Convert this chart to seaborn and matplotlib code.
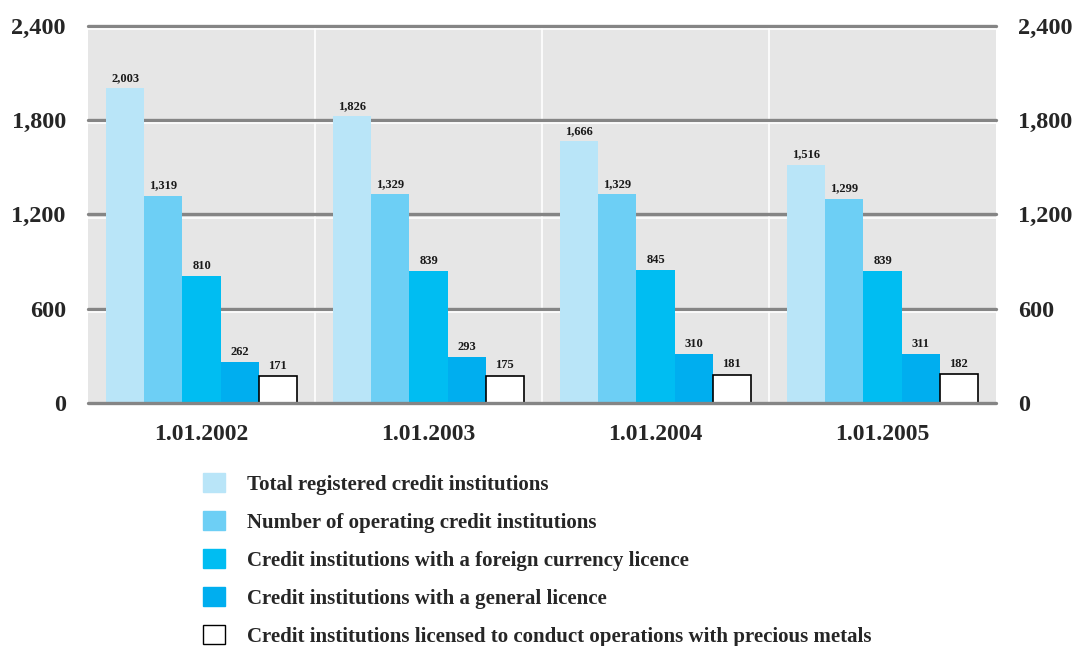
import numpy as np
import pandas as pd
import matplotlib
matplotlib.use("Agg")
import matplotlib.pyplot as plt
import matplotlib.transforms as mtransforms
import seaborn as sns

# Data
dates = ['1.01.2002', '1.01.2003', '1.01.2004', '1.01.2005']
series = [
    'Total registered credit institutions',
    'Number of operating credit institutions',
    'Credit institutions with a foreign currency licence',
    'Credit institutions with a general licence',
    'Credit institutions licensed to conduct operations with precious metals',
]
total_registered = [2003, 1826, 1666, 1516]
operating = [1319, 1329, 1329, 1299]
foreign_currency = [810, 839, 845, 839]
general_licence = [262, 293, 310, 311]
precious_metals = [171, 175, 181, 182]
colors = ['#b9e5f8', '#6dcff5', '#00bdf2', '#00aeef', '#ffffff']
yticks = [0, 600, 1200, 1800, 2400]

values = [total_registered, operating, foreign_currency, general_licence, precious_metals]
df = pd.DataFrame([
    {'date': d, 'series': s, 'value': v}
    for s, vals in zip(series, values)
    for d, v in zip(dates, vals)
])

sns.set_style("white")
plt.rcParams['font.family'] = ['Liberation Serif', 'DejaVu Serif']
plt.rcParams['font.weight'] = 'bold'

fig = plt.figure(figsize=(10.76, 6.46), dpi=100)
ax = fig.add_axes([0.0818, 0.376, 0.8439, 0.5844])

sns.barplot(data=df, x='date', y='value', hue='series', hue_order=series,
            palette=colors, saturation=1, width=0.84, ax=ax, legend=False,
            errorbar=None, zorder=3)

# bar edges: only the white series gets a black outline
for i, cont in enumerate(ax.containers):
    for p in cont.patches:
        if i == len(series) - 1:
            p.set_edgecolor('black')
            p.set_linewidth(1.2)
        else:
            p.set_edgecolor(colors[i])
            p.set_linewidth(0)
    ax.bar_label(cont, labels=[f'{v:,}' for v in values[i]], padding=3,
                 fontsize=9, fontweight='bold', color='#1a1a1a')

ax.set_facecolor('#e6e6e6')
ax.set_ylim(0, 2400)
ax.set_xlim(-0.5, 3.5)
ax.set_xlabel('')
ax.set_ylabel('')

# gridlines: grey line with a thin white line just beneath
shift = mtransforms.ScaledTranslation(0, -2.3 / 72, fig.dpi_scale_trans)
for y in yticks[1:]:
    ax.axhline(y, color='#858585', lw=2.4, zorder=2, clip_on=False)
    ax.plot([0, 1], [y, y], color='white', lw=1.2, zorder=2,
            transform=ax.get_yaxis_transform() + shift)
ax.axhline(0, color='#858585', lw=2.4, zorder=4, clip_on=False)
for x in [0.5, 1.5, 2.5]:
    ax.axvline(x, color='white', lw=1.2, zorder=1)

for s in ax.spines.values():
    s.set_visible(False)

ax.set_yticks(yticks)
ax.set_yticklabels([f'{t:,}' for t in yticks], fontsize=17.5, fontweight='bold')
ax.tick_params(axis='y', length=0, pad=16)
ax.tick_params(axis='x', length=0, pad=15, labelsize=17)
for lbl in ax.get_xticklabels():
    lbl.set_fontweight('bold')

ax2 = ax.twinx()
ax2.set_ylim(0, 2400)
ax2.set_yticks(yticks)
ax2.set_yticklabels([f'{t:,}' for t in yticks], fontsize=17.5, fontweight='bold')
ax2.tick_params(axis='y', length=0, pad=16)
for s in ax2.spines.values():
    s.set_visible(False)

handles = []
for i, cont in enumerate(ax.containers):
    h = plt.Rectangle((0, 0), 1, 1, facecolor=colors[i],
                      edgecolor='black' if i == len(series) - 1 else colors[i], lw=1)
    handles.append(h)
fig.legend(handles, series, loc='upper left', bbox_to_anchor=(0.1887, 0.268),
           frameon=False, fontsize=15, handlelength=1.05, handleheight=1.05,
           handletextpad=1.05, labelspacing=0.78, borderaxespad=0, borderpad=0)

fig.savefig('out.png', dpi=100)
